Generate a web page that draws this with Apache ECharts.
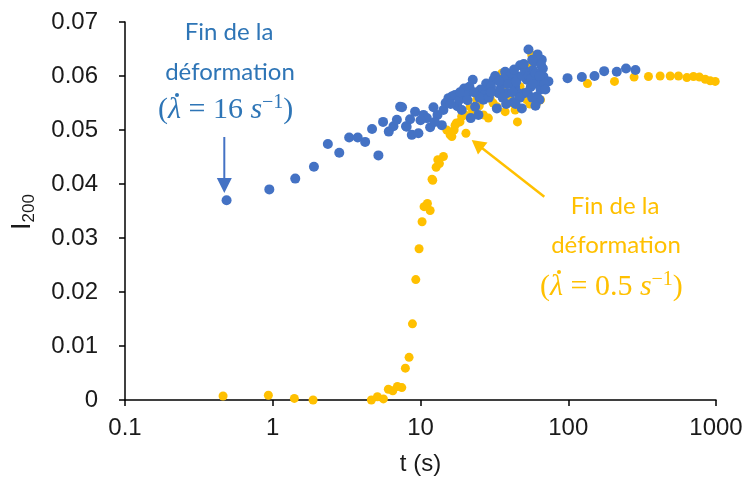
<!DOCTYPE html>
<html><head><meta charset="utf-8">
<script src="https://cdn.jsdelivr.net/npm/echarts@6/dist/echarts.min.js"></script>
<style>html,body{margin:0;padding:0;background:#fff}#c{width:751px;height:490px}</style>
</head><body><div id="c"></div>
<script>
const xTickLabels = ['0.1','1','10','100','1000'];
const yTickLabels = ['0','0.01','0.02','0.03','0.04','0.05','0.06','0.07'];

const blueT = [0.487,0.948,1.42,1.90,2.36,2.82,3.29,3.76,4.22,4.70,5.19,5.58,6.10,6.56,6.92,7.28,7.50,7.98,8.06,8.73,9.19,9.68,10.47,11.04,11.62,12.24,13.03,13.94,14.29,15.46,16.29,17.15,17.78,19.02,19.72,21.43,22.58,21.88,23.42,24.67,26.67,27.82,28.84,31.19,32.86,33.7,35.5,37.4,38.4,40.4,42.6,43.7,46.0,47.2,48.5,50.3,52.4,53.8,55.8,57.6,58.8,61.2,62.8,63.8,66.2,67.3,67.9,73.4,98.9,123.6,150.6,175,213,246,285,
 14.8,18.3,20.5,25.5,27,30,32,34.5,36.5,39,41.5,44.5,45,49,51,54,56,58,60,64,65,69,25,29,36,42,47,53,57,44,38,60,70,65.5,62,57,50,43,34,30,23,18.5,10,8.5,12.5,16,20.8];
const blueI = [0.0370,0.0390,0.0410,0.0432,0.0474,0.0458,0.0486,0.0486,0.0478,0.0502,0.0453,0.0515,0.0497,0.0507,0.0519,0.0543,0.0542,0.0507,0.0506,0.0491,0.0534,0.0494,0.0528,0.0522,0.0505,0.0542,0.0528,0.0509,0.0537,0.0559,0.0562,0.0565,0.0544,0.0537,0.0577,0.0580,0.0593,0.0522,0.0543,0.0528,0.0556,0.0586,0.0574,0.0593,0.0540,0.0568,0.0586,0.0608,0.0568,0.0593,0.0552,0.0580,0.0599,0.0620,0.0540,0.0568,0.0593,0.0649,0.0580,0.0611,0.0627,0.0562,0.0590,0.0556,0.0630,0.0614,0.0599,0.0590,0.0596,0.0598,0.0600,0.0609,0.0608,0.0614,0.0611,
 0.0550,0.0556,0.0565,0.0575,0.0565,0.0580,0.0600,0.0575,0.0595,0.0585,0.0605,0.0590,0.0570,0.0600,0.0610,0.0600,0.0595,0.0585,0.0605,0.0600,0.0575,0.0585,0.0560,0.0560,0.0560,0.0570,0.0560,0.0570,0.0560,0.0548,0.0548,0.0545,0.0575,0.0620,0.0640,0.0630,0.0622,0.0612,0.0590,0.0570,0.0570,0.0570,0.0518,0.0520,0.0515,0.0548,0.0555];

const yellowT = [0.461,0.934,1.40,1.875,4.65,5.11,5.61,6.06,6.49,6.98,7.47,7.90,8.37,8.82,9.29,9.78,10.25,10.57,11.0,11.14,11.62,11.97,12.1,12.76,13.43,13.1,14.29,15.06,15.86,16.3,16.89,17.15,17.5,18.5,20.3,20.05,21.7,24.0,26.7,28.8,29.6,32.9,35.5,37.4,40.4,43.7,45.3,47.2,52.4,56.6,58.2,61.2,64.9,134.9,205.6,279,349,418.8,489.8,557,635,704,773,845,914,988,
 19,22.5,25,31,38,42,50,55,30,36,45,53,60,66];
const yellowI = [0.00074,0.00087,0.0003,0.0000,0.0000,0.0006,0.0002,0.0020,0.0017,0.0025,0.0023,0.0059,0.0079,0.0141,0.0223,0.0280,0.0330,0.0358,0.0361,0.0364,0.0351,0.0409,0.0407,0.0431,0.0438,0.0445,0.0451,0.0500,0.0491,0.0488,0.0500,0.0509,0.0513,0.0515,0.0494,0.0528,0.0543,0.0556,0.0528,0.0522,0.0559,0.0543,0.0605,0.0534,0.0562,0.0537,0.0515,0.0580,0.0556,0.0639,0.0552,0.0550,0.0556,0.0586,0.0590,0.0598,0.0599,0.0600,0.0600,0.0600,0.0597,0.0599,0.0598,0.0594,0.0591,0.0590,
 0.0525,0.0535,0.0545,0.0550,0.0565,0.0550,0.0560,0.0548,0.0575,0.0580,0.0595,0.0620,0.0600,0.0580];

const BLUE = '#4472C4', YEL = '#FFC000', TXTBLUE = '#2E75B6';
const pair = (a,b) => a.map((v,i)=>[v,b[i]]);

const chart = echarts.init(document.getElementById('c'), null, {renderer:'canvas'});
const SERIF = 'Liberation Serif';
const FS = 30;
const mathRich = (c) => ({
  p:{fontFamily:SERIF,fontSize:FS,fill:c,color:c},
  l:{fontFamily:SERIF,fontStyle:'italic',fontSize:FS,fill:c,color:c},
  n:{fontFamily:SERIF,fontSize:FS,fill:c,color:c},
  s:{fontFamily:SERIF,fontStyle:'italic',fontSize:FS,fill:c,color:c},
  sup:{fontFamily:SERIF,fontSize:20,fill:c,color:c,verticalAlign:'top',lineHeight:34}
});
const txt = (x,y,t,c) => ({type:'text',x:x,y:y,style:{text:t,fill:c,font:'24px Lato',textAlign:'center',textVerticalAlign:'middle'}});
const mathLine = (x0,y,num,c) => ([
  {type:'text',x:x0,y:y,style:{text:'{p|(}{l|λ}{n| = '+num+' }{s|s}{sup|−1}{p|)}',rich:mathRich(c),textAlign:'left',textVerticalAlign:'middle'}},
  {type:'circle',shape:{cx:x0+19,cy:y-15,r:2},style:{fill:c}}
]);

chart.setOption({
  animation:false,
  grid:{left:125,right:35,top:22,bottom:90},
  xAxis:{type:'log',logBase:10,min:0.1,max:1000,
    name:'t (s)',nameLocation:'middle',nameGap:52,
    nameTextStyle:{fontFamily:'Liberation Sans',fontSize:24,color:'#1a1a1a'},
    axisLine:{lineStyle:{color:'#000',width:1.5}},
    axisTick:{show:true,length:6,lineStyle:{color:'#000',width:1.5}},
    minorTick:{show:false},
    splitLine:{show:false},
    axisLabel:{margin:16,fontFamily:'Liberation Sans',fontSize:24,color:'#1a1a1a',
      formatter:v=>xTickLabels[Math.round(Math.log10(v))+1]}},
  yAxis:{type:'value',min:0,max:0.07,interval:0.01,
    axisLine:{show:true,lineStyle:{color:'#000',width:1.5}},
    axisTick:{show:true,length:6,lineStyle:{color:'#000',width:1.5}},
    splitLine:{show:false},
    axisLabel:{margin:27,fontFamily:'Liberation Sans',fontSize:24,color:'#1a1a1a',
      formatter:v=>yTickLabels[Math.round(v*100)]}},
  series:[
    {type:'scatter',data:pair(yellowT,yellowI),symbolSize:9,itemStyle:{color:YEL,opacity:1},z:2},
    {type:'scatter',data:pair(blueT,blueI),symbolSize:10,itemStyle:{color:BLUE,opacity:1},z:3}
  ],
  graphic:[
    txt(229,32,'Fin de la',TXTBLUE),
    txt(230,72,'déformation',TXTBLUE),
    ...mathLine(158,110,'16',TXTBLUE),
    {type:'line',shape:{x1:224.3,y1:137,x2:224.3,y2:180},style:{stroke:BLUE,lineWidth:2}},
    {type:'polygon',shape:{points:[[216.8,178],[231.8,178],[224.3,193]]},style:{fill:BLUE}},
    txt(615,206,'Fin de la',YEL),
    txt(616,245,'déformation',YEL),
    ...mathLine(540,287,'0.5',YEL),
    {type:'line',shape:{x1:544.3,y1:196.7,x2:481,y2:147.3},style:{stroke:YEL,lineWidth:2.5}},
    {type:'polygon',shape:{points:[[487.5,142.5],[478,154.5],[471.7,140]]},style:{fill:YEL}},
    {type:'text',x:23,y:212,rotation:Math.PI/2,style:{text:'{a|I}{b|200}',
      rich:{a:{fontFamily:'Liberation Sans',fontSize:27,fill:'#1a1a1a',lineHeight:30},
            b:{fontFamily:'Liberation Sans',fontSize:17,fill:'#1a1a1a',verticalAlign:'bottom',lineHeight:30}},
      textAlign:'center',textVerticalAlign:'middle'}}
  ]
});
</script></body></html>
